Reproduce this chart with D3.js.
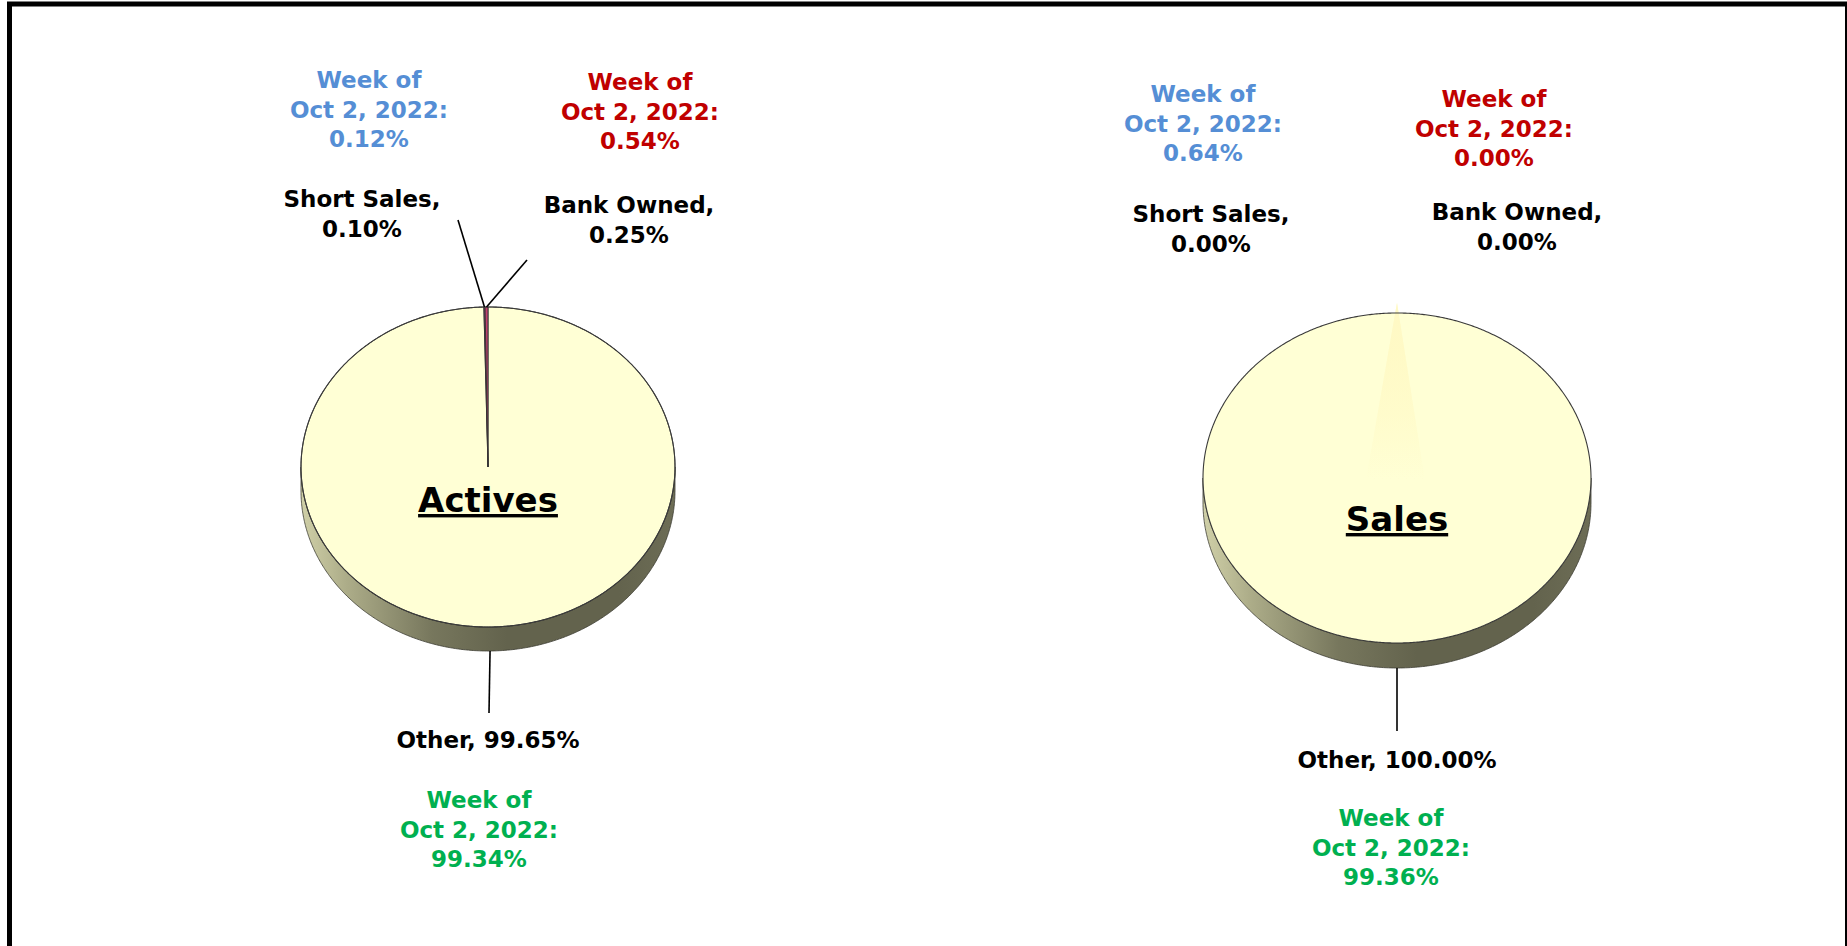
<!DOCTYPE html>
<html>
<head>
<meta charset="utf-8">
<script src="https://cdn.jsdelivr.net/npm/d3@7"></script>
<style>
  html, body { margin: 0; padding: 0; background: #fff; }
  svg { display: block; }
  text { font-family: "DejaVu Sans", sans-serif; font-weight: bold; }
</style>
</head>
<body>
<svg id="chart"></svg>
<script>
// data
const categories = ["Other", "Short Sales", "Bank Owned"];
const activesShare = [99.65, 0.10, 0.25];
const salesShare = [100.00, 0.00, 0.00];
const activesPrior = [99.34, 0.12, 0.54];
const salesPrior = [99.36, 0.64, 0.00];
const priorWeek = ["Week of", "Oct 2, 2022:"];

const sliceColors = ["#ffffd5", "#8e3a6e", "#c0406e"];
const priorColors = ["#00b050", "#558ed5", "#c00000"];

const W = 1847, H = 946;

const svg = d3.select("#chart").attr("width", W).attr("height", H);

// frame
svg.append("rect")
  .attr("x", 9.5).attr("y", 4)
  .attr("width", 1838).attr("height", 980)
  .attr("fill", "none").attr("stroke", "#000").attr("stroke-width", 5);

const defs = svg.append("defs");

// layout of the two pies
const pies = [
  {
    title: "Actives", values: activesShare, prior: activesPrior,
    cx: 488, cy: 467, rx: 187, ry: 160, depth: 24, titleY: 512,
    label: [[488, 748], [362, 207], [629, 213]],
    priorAt: [[479, 808], [369, 88], [640, 90]],
    leader: [[489, 713], [458, 220], [527, 260]]
  },
  {
    title: "Sales", values: salesShare, prior: salesPrior,
    cx: 1397, cy: 478, rx: 194, ry: 165, depth: 25, titleY: 531,
    label: [[1397, 768], [1211, 222], [1517, 220]],
    priorAt: [[1391, 826], [1203, 102], [1494, 107]],
    leader: [[1397, 731], null, null]
  }
];

const fmt = d3.format(".2f");
const lineH = 29.5;
const fontSize = 23;

const pie = d3.pie().sort(null).value(d => d);

pies.forEach((p, pi) => {
  const g = svg.append("g");

  const pt = (a, dy) => [p.cx + p.rx * Math.sin(a), p.cy - p.ry * Math.cos(a) + (dy || 0)];
  const arcPts = (a0, a1, dy) => {
    const n = Math.max(2, Math.ceil((a1 - a0) / (Math.PI / 360)));
    return d3.range(n + 1).map(i => pt(a0 + (a1 - a0) * i / n, dy));
  };
  const line = d3.line();

  // side gradient, light on the left, dark underneath
  const gid = "side" + pi;
  const grad = defs.append("linearGradient").attr("id", gid)
    .attr("gradientUnits", "userSpaceOnUse")
    .attr("x1", p.cx - p.rx).attr("x2", p.cx + p.rx)
    .attr("y1", 0).attr("y2", 0);
  [[0, "#d0d0a8"], [0.12, "#adad89"], [0.35, "#77775d"], [0.55, "#63634d"], [0.85, "#63634d"], [1, "#6d6d56"]]
    .forEach(s => grad.append("stop").attr("offset", s[0]).attr("stop-color", s[1]));

  // highlight fade for empty slices
  const hid = "hl" + pi;
  const hl = defs.append("linearGradient").attr("id", hid)
    .attr("x1", 0).attr("x2", 0).attr("y1", 0).attr("y2", 1);
  hl.append("stop").attr("offset", 0).attr("stop-color", "#fff9c4").attr("stop-opacity", 0.9);
  hl.append("stop").attr("offset", 1).attr("stop-color", "#fff9c4").attr("stop-opacity", 0);

  const slices = pie(p.values);

  // front wall
  const lo = Math.PI / 2, hi = 3 * Math.PI / 2;
  slices.forEach(d => {
    const a0 = Math.max(d.startAngle, lo), a1 = Math.min(d.endAngle, hi);
    if (a1 <= a0) return;
    const top = arcPts(a0, a1, 0);
    const bot = arcPts(a0, a1, p.depth).reverse();
    g.append("path")
      .attr("d", line(top.concat(bot)) + "Z")
      .attr("fill", `url(#${gid})`)
      .attr("stroke", "#3c3c32").attr("stroke-width", 0.8);
  });

  // top faces
  slices.forEach((d, i) => {
    if (d.endAngle - d.startAngle <= 0) return;
    const full = d.endAngle - d.startAngle >= 2 * Math.PI - 1e-9;
    const pts = arcPts(d.startAngle, d.endAngle, 0);
    const dPath = full ? line(pts) + "Z" : "M" + p.cx + "," + p.cy + line(pts).replace("M", "L") + "Z";
    g.append("path")
      .attr("d", dPath)
      .attr("fill", sliceColors[i])
      .attr("stroke", full ? "none" : "#333")
      .attr("stroke-width", full ? 0 : 0.9);
  });

  // faint highlight where the empty slices sit
  slices.forEach(d => {
    if (d.value !== 0) return;
    const a = d.startAngle, w = 0.16;
    const tip = pt(a, -10);
    const b0 = [p.cx - p.rx * w, p.cy + 2], b1 = [p.cx + p.rx * w * 0.9, p.cy + 2];
    g.append("path")
      .attr("d", line([tip, b0, b1]) + "Z")
      .attr("fill", `url(#${hid})`);
  });

  // outer rim
  g.append("path")
    .attr("d", line(arcPts(0, 2 * Math.PI, 0)) + "Z")
    .attr("fill", "none").attr("stroke", "#3a3a3a").attr("stroke-width", 1.1);

  // title
  g.append("text")
    .attr("x", p.cx).attr("y", p.titleY)
    .attr("text-anchor", "middle")
    .attr("font-size", 34)
    .attr("text-decoration", "underline")
    .attr("fill", "#000")
    .text(p.title);

  // leader lines
  slices.forEach((d, i) => {
    const s = p.leader[i];
    if (!s || d.value === 0) return;
    const mid = (d.startAngle + d.endAngle) / 2;
    const front = Math.cos(mid) < 0;
    const e = pt(mid, front ? p.depth : 0);
    g.append("line")
      .attr("x1", s[0]).attr("y1", s[1])
      .attr("x2", e[0]).attr("y2", e[1])
      .attr("stroke", "#000").attr("stroke-width", 1.6);
  });

  // data labels
  categories.forEach((c, i) => {
    const lines = i === 0
      ? [c + ", " + fmt(p.values[i]) + "%"]
      : [c + ",", fmt(p.values[i]) + "%"];
    const tx = g.append("text")
      .attr("text-anchor", "middle")
      .attr("font-size", fontSize)
      .attr("fill", "#000");
    lines.forEach((l, k) => {
      tx.append("tspan").attr("x", p.label[i][0]).attr("y", p.label[i][1] + k * lineH).text(l);
    });

    const pr = priorWeek.concat([fmt(p.prior[i]) + "%"]);
    const tp = g.append("text")
      .attr("text-anchor", "middle")
      .attr("font-size", fontSize)
      .attr("fill", priorColors[i]);
    pr.forEach((l, k) => {
      tp.append("tspan").attr("x", p.priorAt[i][0]).attr("y", p.priorAt[i][1] + k * lineH).text(l);
    });
  });
});
</script>
</body>
</html>
